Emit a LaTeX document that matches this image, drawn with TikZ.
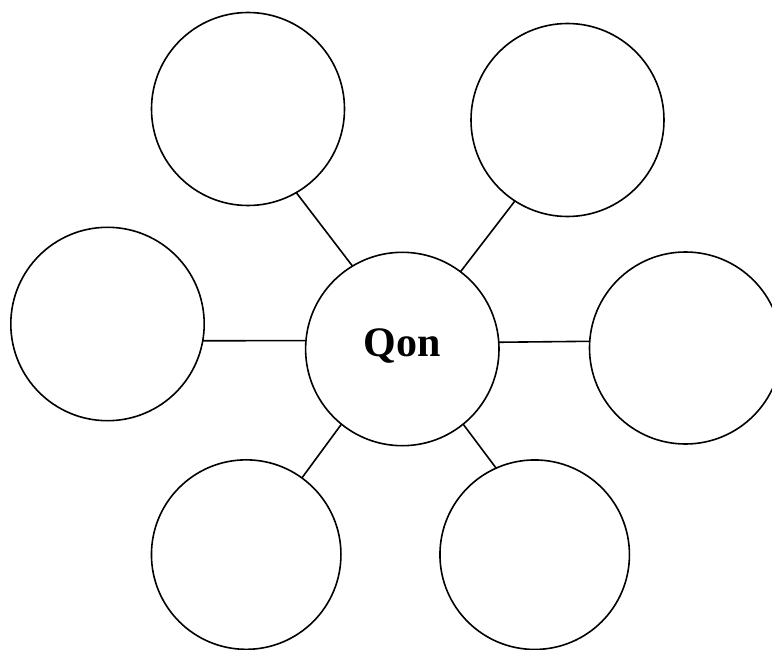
\documentclass[tikz,border=0pt]{standalone}
\usepackage{fontspec}
\setmainfont{Liberation Serif}
\begin{document}
\begin{tikzpicture}[x=1pt,y=-1pt,
  bubble/.style={draw=black,line width=1.6pt,circle,inner sep=0pt,outer sep=0pt,minimum size=#1},
  link/.style={draw=black,line width=1.6pt}]
\useasboundingbox (0,0) rectangle (772,650);
\node[bubble=193pt] (TL) at (248,109) {};
\node[bubble=193pt] (TR) at (567.5,120) {};
\node[bubble=193.4pt] (L) at (107.5,324) {};
\node[bubble=193.4pt] (C) at (402.3,349) {};
\node[bubble=192pt] (R) at (685.5,348) {};
\node[bubble=189.5pt] (BL) at (246.2,554.6) {};
\node[bubble=189.5pt] (BR) at (534.7,554.7) {};
\node[anchor=base,inner sep=0pt] (T) at (402.3,356.7) {\fontsize{42}{50}\selectfont\bfseries Qon};
\draw[link] (TL.-60.3) -- (C.121.3);
\draw[link] (TR.237.7) -- (C.53.5);
\draw[link] (L.-10.3) -- (C.175.4);
\draw[link] (C.4.33) -- (R.176.24);
\draw[link] (BL.54.6) -- (C.-129.3);
\draw[link] (C.-51.1) -- (BR.114.5);
\end{tikzpicture}
\end{document}
